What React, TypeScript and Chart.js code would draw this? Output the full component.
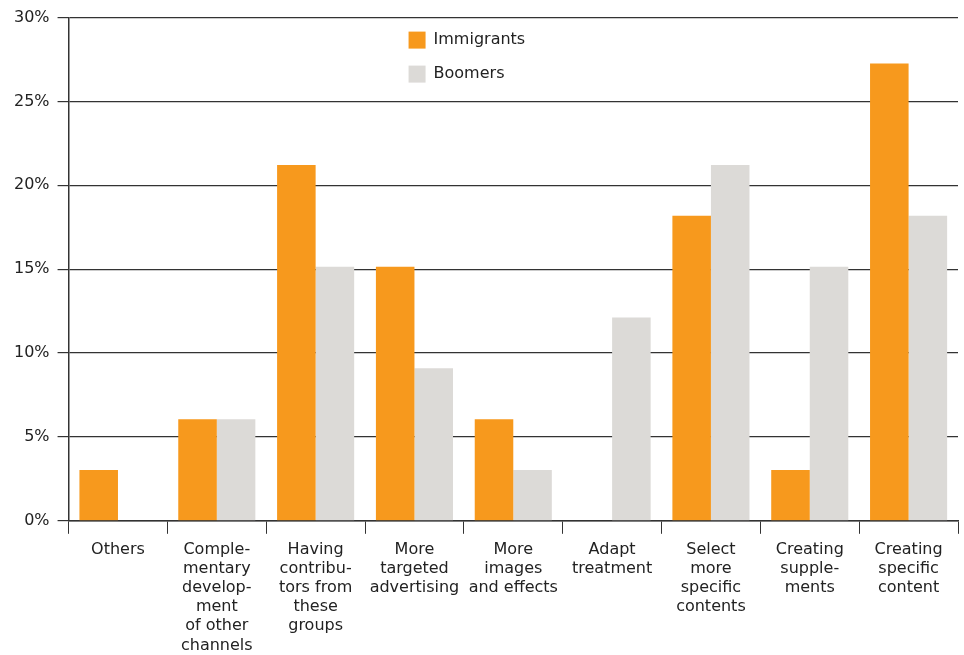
import React, { useEffect, useRef } from "react";
import { Chart, registerables } from "chart.js";

Chart.register(...registerables);

const categories: string[][] = [
  ["Others"],
  ["Comple-", "mentary", "develop-", "ment", "of other", "channels"],
  ["Having", "contribu-", "tors from", "these", "groups"],
  ["More", "targeted", "advertising"],
  ["More", "images", "and effects"],
  ["Adapt", "treatment"],
  ["Select", "more", "specific", "contents"],
  ["Creating", "supple-", "ments"],
  ["Creating", "specific", "content"],
];

const immigrants: number[] = [3.03, 6.06, 21.21, 15.15, 6.06, 0, 18.18, 3.03, 27.27];
const boomers: number[] = [0, 6.06, 15.15, 9.09, 3.03, 12.12, 21.21, 15.15, 18.18];

const seriesNames = ["Immigrants", "Boomers"];
const colors = ["#F7991D", "#DCDAD7"];
const FONT = "'DejaVu Sans', Verdana, sans-serif";

const legendPlugin = {
  id: "insideLegend",
  afterDraw(chart: any) {
    const { ctx, chartArea } = chart;
    ctx.save();
    ctx.font = `16px ${FONT}`;
    ctx.textBaseline = "middle";
    ctx.textAlign = "left";
    seriesNames.forEach((name, i) => {
      const x = chartArea.left + 340;
      const y = chartArea.top + 14 + i * 34;
      ctx.fillStyle = colors[i];
      ctx.fillRect(x, y, 17, 17);
      ctx.fillStyle = "#222";
      ctx.fillText(name, x + 25, y + 8.5);
    });
    ctx.restore();
  },
};

export default function App() {
  const ref = useRef<HTMLCanvasElement | null>(null);
  useEffect(() => {
    document.body.style.margin = "0";
    const chart = new Chart(ref.current!, {
      type: "bar",
      data: {
        labels: categories,
        datasets: [
          { label: seriesNames[0], data: immigrants, backgroundColor: colors[0] },
          { label: seriesNames[1], data: boomers, backgroundColor: colors[1] },
        ],
      },
      plugins: [legendPlugin],
      options: {
        animation: false,
        responsive: false,
        maintainAspectRatio: false,
        layout: { padding: { top: 9, right: 6, left: 6, bottom: 0 } },
        datasets: { bar: { barPercentage: 1, categoryPercentage: 0.78 } },
        plugins: {
          legend: { display: false },
          tooltip: { enabled: false },
        },
        scales: {
          x: {
            offset: true,
            grid: {
              offset: true,
              drawOnChartArea: false,
              drawTicks: true,
              tickLength: 13,
              color: "#333",
            },
            border: { color: "#333", width: 1.5 },
            ticks: {
              color: "#222",
              font: { family: FONT, size: 16, lineHeight: 1.2 },
              maxRotation: 0,
              autoSkip: false,
              padding: 6,
            },
          },
          y: {
            min: 0,
            max: 30,
            grid: { color: "#333", lineWidth: 1.2, tickLength: 11 },
            border: { color: "#333", width: 1.5 },
            ticks: {
              stepSize: 5,
              color: "#222",
              padding: 8,
              font: { family: FONT, size: 16 },
              callback: (v: any) => `${v}%`,
            },
          },
        },
      },
    });
    return () => chart.destroy();
  }, []);
  return (
    <div style={{ width: 964, height: 655, overflow: "hidden" }}>
      <canvas ref={ref} width={964} height={661} style={{ display: "block" }} />
    </div>
  );
}
